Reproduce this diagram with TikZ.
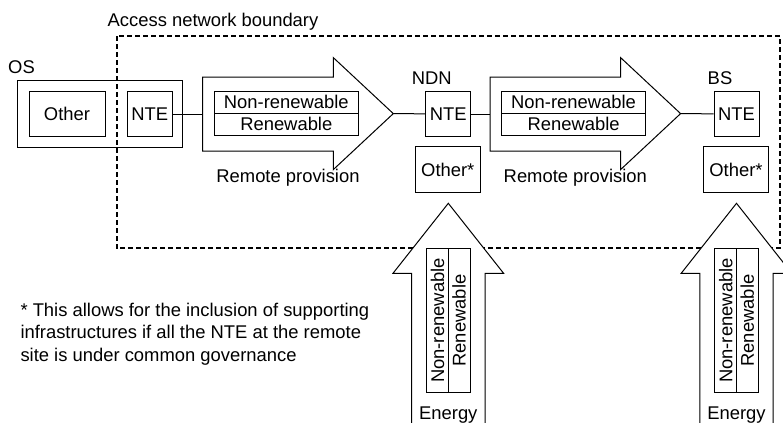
\documentclass[tikz,border=0pt]{standalone}
\usepackage{fontspec}
\setmainfont{Liberation Sans}
\usetikzlibrary{positioning}

\begin{document}
\begin{tikzpicture}[x=0.5pt,y=-0.5pt,line width=0.5pt]
\tikzstyle{box} = [draw, inner sep=0pt, minimum width=22.5pt, minimum height=22.8pt, font=\fontsize{9.2}{11.2}\selectfont];
\tikzstyle{half} = [draw, inner sep=0pt, minimum width=72pt, minimum height=11pt, font=\fontsize{9.2}{11.2}\selectfont];
\tikzstyle{lbl} = [inner sep=0pt, font=\fontsize{9.2}{11.2}\selectfont];
\tikzstyle{fat} = [draw, fill=white];
\tikzstyle{boundary} = [draw, line width=1pt, dash pattern=on 2.5pt off 1.5pt];

\clip (0,0) rectangle (783,423);

% access network boundary
\draw[boundary] (116.7,36) rectangle (780,248.3);
\node[lbl] (acc) at (213,22) {Access network boundary};

% operator site
\node[lbl] (os-lbl) at (21.5,67) {OS};
\node[box, minimum width=82.5pt, minimum height=33.5pt] (os) at (100.2,114) {};
\node[box, minimum width=38pt] (other) at (67,114) {Other};
\node[box] (nte-0) at (149.8,114) {NTE};

% remote provision
\foreach \i/\x in {1/202.7,2/490}{
	\draw[fat] (\x,77) -- ++(130.6,0) -- ++(0,-19.4) -- ++(60,56) coordinate (tip-\i) -- ++(-60,56) -- ++(0,-18.6) -- ++(-130.6,0) -- cycle;
	\coordinate (tail-\i) at (\x,114);
	\node[half] (nr-\i) at (\x+83.6,102) {Non-renewable};
	\node[half] (re-\i) at (\x+83.6,124) {Renewable};
	\node[lbl] (rp-\i) at (\x+85.3,178) {Remote provision};
}

% remote sites
\foreach \i/\x/\n in {1/448.3/NDN,2/736.5/BS}{
	\node[lbl] (site-\i) at (\x-16.5,78) {\n};
	\node[box] (nte-\i) at (\x,114) {NTE};
	\node[box, minimum width=32.8pt] (oth-\i) at (\x-0.5,169.5) {Other*};
	\draw[fat] (\x,203.3) coordinate (up-\i) -- (\x+55.3,273.3) -- (\x+36.7,273.3) -- (\x+36.7,430) -- (\x-36.7,430) -- (\x-36.7,273.3) -- (\x-55.3,273.3) -- cycle;
	\node[half, rotate=90] (vnr-\i) at (\x-10.8,320.5) {Non-renewable};
	\node[half, rotate=90] (vre-\i) at (\x+10.8,320.5) {Renewable};
	\node[lbl] (en-\i) at (\x,415) {Energy};
}

\draw (nte-0) -- (tail-1);
\draw (tip-1) -- (nte-1);
\draw (nte-1) -- (tail-2);
\draw (tip-2) -- (nte-2);

\node[lbl, align=left, anchor=west] (note) at (20,334) {* This allows for the inclusion of supporting\\infrastructures if all the NTE at the remote\\site is under common governance};
\end{tikzpicture}
\end{document}
